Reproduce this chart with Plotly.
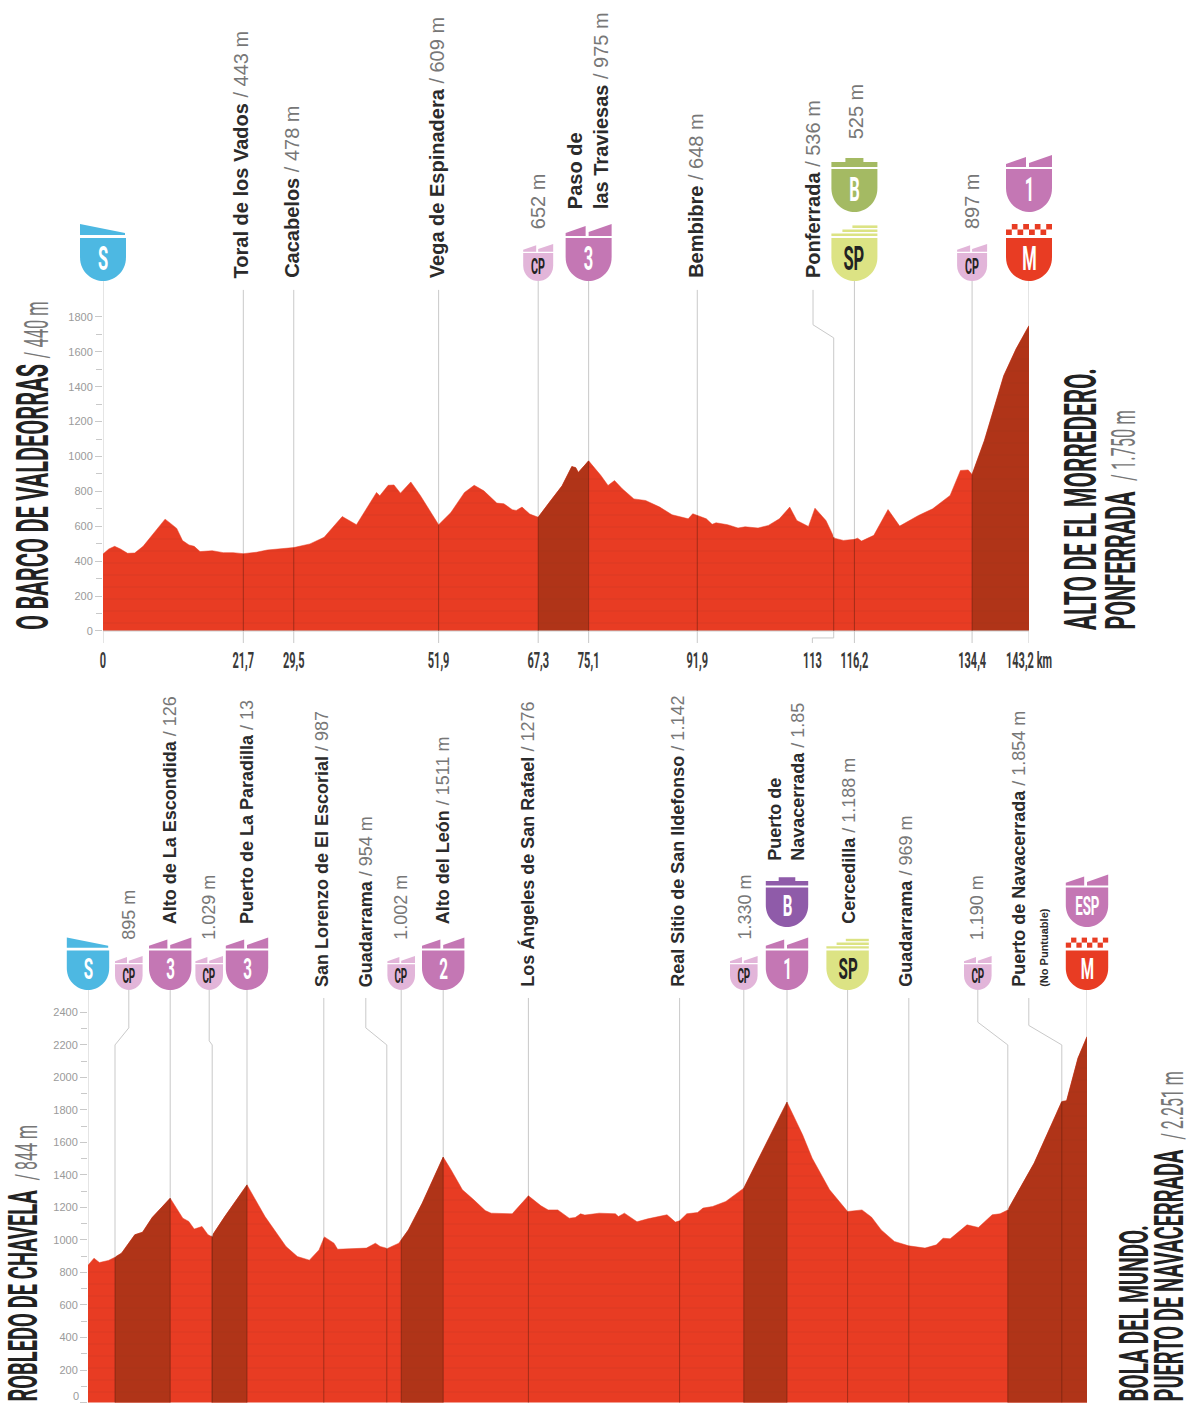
import numpy as np
import plotly.graph_objects as go

W, H = 1200, 1403
RED = "#e83c23"
DARK = "#b03418"
GREY_LINE = "#c9c9c9"
IN_RED = "rgba(80,25,10,0.45)"
NARROW = "Roboto"  # squeezed sideways in the page script below, no condensed font is installed
SANS = "Liberation Sans"
TEXT = "#2b2b2b"

# stage 1: O Barco de Valdeorras - Alto de El Morredero
stage1_km = [0, 0.9, 1.8, 2.7, 3.8, 4.9, 6.2, 7.4, 9.6, 10.4, 11.4, 12.3, 13.3, 14.1, 15.0, 16.9, 18.6, 20.1,
             21.7, 23.7, 25.4, 29.5, 32.0, 34.2, 35.8, 37.0, 39.2, 40.8, 42.3, 42.8, 44.1, 45.0, 46.0, 47.6,
             49.1, 51.9, 53.8, 55.9, 57.4, 58.9, 60.9, 62.0, 63.3, 63.9, 64.8, 66.0, 67.3, 69.2, 71.0, 72.5,
             73.1, 73.5, 75.1, 77.0, 78.1, 79.1, 80.3, 82.1, 83.9, 86.1, 88.0, 90.5, 91.2, 93.3, 94.2, 94.8,
             96.6, 98.2, 99.3, 101.3, 102.9, 104.6, 106.2, 107.3, 109.1, 110.1, 111.8, 113.1, 114.5, 116.2,
             116.7, 117.3, 119.2, 121.4, 123.2, 126.1, 128.3, 131.0, 132.6, 133.8, 134.4, 136.3, 139.3,
             141.2, 143.2]
stage1_alt = [441, 470, 485, 470, 445, 447, 485, 542, 641, 618, 588, 518, 493, 485, 455, 460, 449, 449,
              443, 451, 464, 478, 499, 537, 603, 656, 609, 708, 794, 775, 835, 837, 790, 854,
              775, 609, 679, 794, 835, 803, 733, 729, 695, 691, 710, 670, 652, 746, 832, 942,
              936, 908, 975, 891, 834, 862, 815, 757, 748, 710, 666, 643, 672, 643, 611, 620,
              609, 590, 597, 590, 605, 643, 710, 633, 599, 704, 633, 532, 519, 525,
              532, 515, 548, 696, 601, 662, 700, 777, 920, 923, 897, 1091, 1463,
              1616, 1750]
stage1_climbs = [(67.3, 75.1), (134.4, 143.2)]
stage1_ticks = [0, 21.7, 29.5, 51.9, 67.3, 75.1, 91.9, 109.7, 116.2, 134.4, 143.2]
stage1_ticktext = ["0", "21,7", "29,5", "51,9", "67,3", "75,1", "91,9", "113", "116,2", "134,4", "143,2 km"]
stage1_lines = [0, 21.7, 29.5, 51.9, 67.3, 75.1, 91.9, 116.2, 134.4, 143.2]
stage1_tops = [2006, 1955, 1955, 1955, 2006, 2006, 1955, 2006, 2006, 2006]
stage1_bent_x = [109.8, 109.8, 113, 113]
stage1_bent_y = [1955, 1755, 1680, 536]
stage1_foot_x = [113, 113, 109.7, 109.7]
stage1_foot_y = [0, -40, -40, -69]
stage1_alt_ticks = [0, 200, 400, 600, 800, 1000, 1200, 1400, 1600, 1800]
stage1_alt_minor = [100, 300, 500, 700, 900, 1100, 1300, 1500, 1700]

# stage 2: Robledo de Chavela - Bola del Mundo (km axis is cut off in the picture)
stage2_km = [0, 1.0, 1.9, 3.4, 4.5, 5.6, 7.8, 9.1, 10.7, 13.7, 15.8, 16.8, 17.7, 19.0, 20.0, 20.6, 22.8, 26.5,
             29.5, 33.0, 34.9, 36.9, 38.5, 39.4, 41.0, 41.6, 46.4, 47.9, 48.7, 49.9, 51.8, 52.2, 53.4, 55.7,
             59.2, 60.5, 62.4, 64.3, 66.2, 67.2, 70.7, 73.4, 75.5, 76.7, 78.3, 80.2, 81.2, 82.1, 82.8, 85.2,
             87.9, 88.4, 89.4, 91.5, 93.3, 96.5, 97.9, 98.6, 99.8, 101.6, 102.5, 104.1, 106.3, 109.3, 112.7,
             116.5, 119.1, 120.7, 123.6, 126.6, 129.0, 130.6, 132.2, 134.4, 136.8, 139.5, 141.4, 142.5, 143.7,
             146.5, 148.4, 150.7, 152.0, 153.3, 157.7, 161.2, 162.3, 163.1, 165.0, 166.5]
stage2_alt = [844, 888, 861, 874, 894, 919, 1032, 1048, 1138, 1257, 1134, 1114, 1067, 1083, 1032, 1021, 1144, 1339,
              1144, 960, 898, 876, 939, 1019, 980, 943, 950, 980, 960, 948, 980, 1000, 1062, 1226,
              1510, 1432, 1309, 1247, 1181, 1165, 1161, 1272, 1210, 1185, 1185, 1134, 1138, 1161, 1153, 1165,
              1161, 1144, 1165, 1112, 1130, 1155, 1110, 1118, 1161, 1169, 1196, 1206, 1237, 1319, 1565,
              1848, 1647, 1503, 1309, 1175, 1185, 1140, 1062, 991, 964, 950, 970, 1011, 1007,
              1093, 1077, 1155, 1161, 1185, 1473, 1760, 1852, 1856, 2119, 2251]
stage2_climbs = [(4.5, 13.7), (20.6, 26.5), (52.2, 59.2), (109.3, 116.5), (153.3, 166.5)]
stage2_lines = [0, 13.7, 26.5, 39.3, 52.2, 59.2, 73.4, 98.6, 109.3, 116.5, 126.6, 136.8, 166.5]
stage2_tops = [2538, 2538, 2538, 2489, 2538, 2538, 2489, 2489, 2538, 2538, 2538, 2489, 2538]
stage2_bent = [([6.8, 6.8, 4.5, 4.5], [2538, 2305, 2200, 894]),
               ([20.2, 20.2, 20.7, 20.7], [2538, 2225, 2200, 1021]),
               ([46.3, 46.3, 49.8, 49.8], [2489, 2305, 2200, 948]),
               ([148.3, 148.3, 153.3, 153.3], [2538, 2340, 2200, 1185]),
               ([156.8, 156.8, 162.3, 162.3], [2489, 2320, 2200, 1852])]
stage2_bent_feet = [4.5, 20.7, 49.8, 153.3, 162.3]
stage2_alt_ticks = [0, 200, 400, 600, 800, 1000, 1200, 1400, 1600, 1800, 2000, 2200, 2400]
stage2_alt_minor = [100, 300, 500, 700, 900, 1100, 1300, 1500, 1700, 1900, 2100, 2300]

# (km, text, bottom of the label in page pixels)
stage1_labels = [
    (21.4, "<b>Toral de los Vados</b> <span style='color:#777'>/ 443 m</span>", 279),
    (29.2, "<b>Cacabelos</b> <span style='color:#777'>/ 478 m</span>", 279),
    (51.6, "<b>Vega de Espinadera</b> <span style='color:#777'>/ 609 m</span>", 279),
    (67.3, "<span style='color:#777'>652 m</span>", 230),
    (75.1, "<b>Paso de<br>las Traviesas</b> <span style='color:#777'>/ 975 m</span>", 210),
    (91.6, "<b>Bembibre</b> <span style='color:#777'>/ 648 m</span>", 279),
    (109.8, "<b>Ponferrada</b> <span style='color:#777'>/ 536 m</span>", 279),
    (116.5, "<span style='color:#777'>525 m</span>", 140),
    (134.4, "<span style='color:#777'>897 m</span>", 230),
]
stage2_labels = [
    (6.8, "<span style='color:#777'>895 m</span>", 941),
    (13.7, "<b>Alto de La Escondida</b> <span style='color:#777'>/ 126</span>", 925),
    (20.2, "<span style='color:#777'>1.029 m</span>", 941),
    (26.5, "<b>Puerto de La Paradilla</b> <span style='color:#777'>/ 13</span>", 925),
    (39.0, "<b>San Lorenzo de El Escorial</b> <span style='color:#777'>/ 987</span>", 988),
    (46.3, "<b>Guadarrama</b> <span style='color:#777'>/ 954 m</span>", 988),
    (52.2, "<span style='color:#777'>1.002 m</span>", 941),
    (59.2, "<b>Alto del León</b> <span style='color:#777'>/ 1511 m</span>", 925),
    (73.2, "<b>Los Ángeles de San Rafael</b> <span style='color:#777'>/ 1276</span>", 988),
    (98.2, "<b>Real Sitio de San Ildefonso</b> <span style='color:#777'>/ 1.142</span>", 988),
    (109.5, "<span style='color:#777'>1.330 m</span>", 941),
    (116.3, "<b>Puerto de<br>Navacerrada</b> <span style='color:#777'>/ 1.85</span>", 862),
    (126.8, "<b>Cercedilla</b> <span style='color:#777'>/ 1.188 m</span>", 925),
    (136.2, "<b>Guadarrama</b> <span style='color:#777'>/ 969 m</span>", 988),
    (148.3, "<span style='color:#777'>1.190 m</span>", 941),
    (156.8, "<b>Puerto de Navacerrada</b> <span style='color:#777'>/ 1.854 m</span><br><span style='font-size:11px'><b>(No Puntuable)</b></span>", 988),
]

# (km, kind, text, tip of the badge in page pixels)
stage1_badges = [(0, "start", "S", 281), (67.3, "cp", "CP", 281), (75.1, "climb", "3", 281),
                 (116.2, "sprint", "SP", 281), (116.2, "bonus", "B", 212), (134.4, "cp", "CP", 281),
                 (143.2, "finish", "M", 281), (143.2, "climb", "1", 212)]
stage2_badges = [(0, "start", "S", 990), (6.8, "cp", "CP", 990), (13.7, "climb", "3", 990), (20.2, "cp", "CP", 990),
                 (26.5, "climb", "3", 990), (52.2, "cp", "CP", 990), (59.2, "climb", "2", 990),
                 (109.3, "cp", "CP", 990), (116.5, "climb", "1", 990), (116.5, "bonus2", "B", 927),
                 (126.6, "sprint", "SP", 990), (148.3, "cp", "CP", 990), (166.5, "finish", "M", 990),
                 (166.5, "climb", "ESP", 927)]

badge_colors = {"start": "#4db8e2", "cp": "#e2b5d9", "climb": "#c477b4", "sprint": "#dce384",
                "bonus": "#a4ba63", "bonus2": "#8f5ba9", "finish": RED}
badge_ink = {"cp": "#222222", "sprint": "#222222"}


def pt(x, y, s):
    return f"{x * s:.1f},{y * s:.1f}"


def badge_paths(kind, s):
    # pixel paths measured from the tip of the badge, y going up
    paths = ["M" + pt(-23, 24, s) + "C" + pt(-23, 8, s) + " " + pt(-10, 0, s) + " " + pt(0, 0, s)
             + "C" + pt(10, 0, s) + " " + pt(23, 8, s) + " " + pt(23, 24, s)
             + "L" + pt(23, 43, s) + "L" + pt(-23, 43, s) + "Z"]
    if kind == "start":
        paths.append("M" + pt(-23, 46, s) + "L" + pt(22, 46, s) + "L" + pt(22, 48, s) + "L" + pt(-23, 57, s) + "Z")
    elif kind in ("cp", "climb"):
        paths.append("M" + pt(-23, 45, s) + "L" + pt(-23, 48, s) + "L" + pt(-3, 55, s) + "L" + pt(-3, 45, s) + "Z")
        paths.append("M" + pt(0, 45, s) + "L" + pt(0, 49, s) + "L" + pt(23, 57, s) + "L" + pt(23, 45, s) + "Z")
    elif kind in ("bonus", "bonus2"):
        paths.append("M" + pt(-23, 45, s) + "L" + pt(-23, 50, s) + "L" + pt(-9, 50, s) + "L" + pt(-9, 54, s)
                     + "L" + pt(9, 54, s) + "L" + pt(9, 50, s) + "L" + pt(23, 50, s) + "L" + pt(23, 45, s) + "Z")
    elif kind == "sprint":
        for y0, x0 in [(45, -23), (49, -12), (53, -2)]:
            paths.append("M" + pt(x0, y0, s) + "L" + pt(x0, y0 + 2.6, s) + "L" + pt(23, y0 + 2.6, s)
                         + "L" + pt(23, y0, s) + "Z")
    elif kind == "finish":
        for row, y0 in enumerate([46, 51.5]):
            for i in range(4):
                x0 = -23 + (row * 5.75) + i * 11.5
                x1 = min(x0 + 5.75, 23)
                paths.append("M" + pt(x0, y0, s) + "L" + pt(x0, y0 + 5.5, s) + "L" + pt(x1, y0 + 5.5, s)
                             + "L" + pt(x1, y0, s) + "Z")
    return paths


fig = go.Figure()


def stripes(color):
    # the print has faint horizontal bands across the filled profile
    return dict(shape="-", size=12, solidity=0.1, fgcolor="#7a2210", fgopacity=0.1, bgcolor=color)


def add_profile(km, alt, climbs, lines, tops, xa, ya):
    km = np.array(km)
    alt = np.array(alt)
    for x, top in zip(lines, tops):
        fig.add_trace(go.Scatter(x=[x, x], y=[0, top], mode="lines", xaxis=xa, yaxis=ya,
                                 line=dict(color=GREY_LINE, width=1), hoverinfo="skip"))
    fig.add_trace(go.Scatter(x=km, y=alt, mode="lines", fill="tozeroy", fillcolor=RED, fillpattern=stripes(RED),
                             xaxis=xa, yaxis=ya, line=dict(color=RED, width=0.5), hoverinfo="x+y"))
    for start, end in climbs:
        part = (km >= start) & (km <= end)
        fig.add_trace(go.Scatter(x=km[part], y=alt[part], mode="lines", fill="tozeroy", fillcolor=DARK,
                                 fillpattern=stripes(DARK), xaxis=xa, yaxis=ya,
                                 line=dict(color=DARK, width=0.5), hoverinfo="x+y"))


def add_in_red(km, alt, marks, xa, ya):
    for x in marks:
        fig.add_trace(go.Scatter(x=[x, x], y=[0, np.interp(x, km, alt)], mode="lines", xaxis=xa, yaxis=ya,
                                 line=dict(color=IN_RED, width=1), hoverinfo="skip"))


add_profile(stage1_km, stage1_alt, stage1_climbs, stage1_lines, stage1_tops, "x", "y")
fig.add_trace(go.Scatter(x=stage1_bent_x, y=stage1_bent_y, mode="lines",
                         line=dict(color=GREY_LINE, width=1), hoverinfo="skip"))
fig.add_trace(go.Scatter(x=stage1_foot_x, y=stage1_foot_y, mode="lines",
                         line=dict(color=GREY_LINE, width=1), hoverinfo="skip"))
fig.add_trace(go.Scatter(x=[0, 143.2], y=[0, 0], mode="lines", line=dict(color=GREY_LINE, width=1), hoverinfo="skip"))
for x in stage1_lines:
    fig.add_trace(go.Scatter(x=[x, x], y=[0, -69], mode="lines",
                             line=dict(color=GREY_LINE, width=1), hoverinfo="skip"))
add_in_red(stage1_km, stage1_alt, stage1_lines[1:-1] + [113], "x", "y")

add_profile(stage2_km, stage2_alt, stage2_climbs, stage2_lines, stage2_tops, "x2", "y2")
for bx, by in stage2_bent:
    fig.add_trace(go.Scatter(x=bx, y=by, mode="lines", xaxis="x2", yaxis="y2",
                             line=dict(color=GREY_LINE, width=1), hoverinfo="skip"))
add_in_red(stage2_km, stage2_alt, stage2_lines[1:-1] + stage2_bent_feet, "x2", "y2")

annotations = []
shapes = []


def rotated(x, xref, bottom_px, text, size, family=SANS, color=TEXT):
    annotations.append(dict(x=x, xref=xref, y=1 - bottom_px / H, yref="paper", text=text, textangle=-90,
                            showarrow=False, xanchor="center", yanchor="bottom", align="left",
                            font=dict(family=family, size=size, color=color), borderpad=0))


for km, text, bottom in stage1_labels:
    rotated(km, "x", bottom, text, 20)
for km, text, bottom in stage2_labels:
    rotated(km, "x2", bottom, text, 18)


def add_badges(badges, left, px_per_km, scale, xref):
    for km, kind, text, tip in badges:
        s = scale * 0.65 if kind == "cp" else scale
        for path in badge_paths(kind, s):
            shapes.append(dict(type="path", path=path, xsizemode="pixel", ysizemode="pixel", xref="paper",
                               yref="paper", xanchor=(left + km * px_per_km) / W, yanchor=1 - tip / H,
                               fillcolor=badge_colors[kind], line=dict(width=0), layer="above"))
        size = 29 * s if text == "ESP" else 33 * s
        annotations.append(dict(x=km, xref=xref, y=1 - tip / H, yref="paper", yshift=23 * s, text=f"<b>{text}</b>",
                                showarrow=False, xanchor="center", yanchor="middle",
                                font=dict(family=NARROW, size=size, color=badge_ink.get(kind, "white"))))


add_badges(stage1_badges, 103, 926 / 143.2, 1, "x")
add_badges(stage2_badges, 88, 999 / 166.5, 0.92, "x2")


def title(x_px, bottom_px, text, size):
    annotations.append(dict(x=x_px / W, xref="paper", y=1 - bottom_px / H, yref="paper", text=text, textangle=-90,
                            showarrow=False, xanchor="center", yanchor="bottom", align="left", borderpad=0,
                            font=dict(family=NARROW, size=size, color="#222222")))


title(34, 631, "<b>O BARCO DE VALDEORRAS</b> <span style='color:#777;font-size:33px'>/ 440 m</span>", 43.5)
title(1081, 631, "<b>ALTO DE EL MORREDERO.</b>", 45)
title(1121, 631, "<b>PONFERRADA</b>  <span style='color:#777;font-size:33px'>/ 1.750 m</span>", 43)
title(24, 1403, "<b>ROBLEDO DE CHAVELA</b>  <span style='color:#777;font-size:32px'>/ 844 m</span>", 40)
title(1134, 1403, "<b>BOLA DEL MUNDO.</b>", 41)
title(1170, 1403, "<b>PUERTO DE NAVACERRADA</b>  <span style='color:#777;font-size:32px'>/ 2.251 m</span>", 40)

# the 0 of the lower axis sits on the page edge, plotly drops its tick label there
annotations.append(dict(x=76 / W, xref="paper", y=0, yref="paper", text="0", showarrow=False, xanchor="center",
                        yanchor="bottom", font=dict(family=SANS, size=11, color="#9a9a9a"), borderpad=0))

tick_font = dict(family=SANS, size=11, color="#9a9a9a")
y_style = dict(showgrid=False, zeroline=False, showline=False, ticks="outside", ticklen=7, tickwidth=1,
               tickcolor=GREY_LINE, tickfont=tick_font, tickmode="array")

fig.update_layout(
    width=W, height=H, autosize=False, showlegend=False,
    margin=dict(l=0, r=0, t=0, b=0, autoexpand=False),
    paper_bgcolor="white", plot_bgcolor="rgba(0,0,0,0)",
    xaxis=dict(domain=[103 / W, 1029 / W], range=[0, 143.2], showgrid=False, zeroline=False, showline=False,
               tickmode="array", tickvals=stage1_ticks, ticktext=[f"<b>{t}</b>" for t in stage1_ticktext],
               ticks="", ticklabelstandoff=2, anchor="y", tickangle=0,
               tickfont=dict(family=NARROW, size=22, color="#3a3a3a")),
    yaxis=dict(domain=[(H - 643) / H, (H - 281) / H], range=[-69, 2006], anchor="x", tickvals=stage1_alt_ticks,
               minor=dict(tickmode="array", tickvals=stage1_alt_minor, ticks="outside", ticklen=6, tickcolor=GREY_LINE),
               **y_style),
    xaxis2=dict(domain=[88 / W, 1087 / W], range=[0, 166.5], showgrid=False, zeroline=False, showline=False,
                showticklabels=False, ticks="", anchor="y2"),
    yaxis2=dict(domain=[0, (H - 990) / H], range=[-3, 2538], anchor="x2", tickvals=stage2_alt_ticks,
                minor=dict(tickmode="array", tickvals=stage2_alt_minor, ticks="outside", ticklen=6, tickcolor=GREY_LINE),
                **y_style),
    annotations=annotations, shapes=shapes,
)

# the reference's display face is very condensed: narrow the Roboto texts along their reading direction
squeeze_js = """
document.body.style.margin = '0';
var gd = document.getElementById('{plot_id}');
function squeeze() {
  document.querySelectorAll('svg text').forEach(function (t) {
    if (t.dataset.squeezed || t.style.fontFamily.indexOf('Roboto') < 0) return;
    var b = t.getBBox();
    var g = t.closest('.annotation-text-g');
    var turned = g && (g.getAttribute('transform') || '').indexOf('-90') >= 0;
    var ox = turned ? b.x : b.x + b.width / 2;
    var tr = t.getAttribute('transform') || '';
    t.setAttribute('transform', tr + ' translate(' + ox + ',0) scale(0.5,1) translate(' + (-ox) + ',0)');
    t.dataset.squeezed = '1';
  });
}
gd.on('plotly_afterplot', squeeze);
setTimeout(squeeze, 100);
"""

fig.write_html("out.html", post_script=squeeze_js, config=dict(displayModeBar=False))
